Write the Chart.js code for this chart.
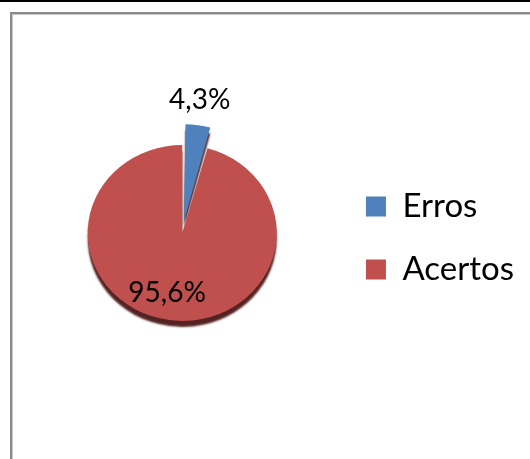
<!DOCTYPE html>
<html>
<head>
<meta charset="utf-8">
<script src="https://cdn.jsdelivr.net/npm/chart.js@4/dist/chart.umd.min.js"></script>
<style>
  html, body { margin: 0; padding: 0; background: #fff; width: 530px; height: 459px; overflow: hidden; }
  #topline { position: absolute; left: 0; top: 0; width: 530px; height: 2px; background: #000; }
  #frame { position: absolute; left: 10px; top: 12px; width: 540px; height: 470px;
           border-left: 2px solid #8a8a8a; border-top: 2px solid #8a8a8a;
           box-shadow: inset 1px 1px 0 #c8c8c8; }
  #c { position: absolute; left: 0; top: 0; }
</style>
</head>
<body>
<div id="topline"></div>
<div id="frame"></div>
<canvas id="c" width="530" height="459"></canvas>
<script>
const categories = ["Erros", "Acertos"];
const values = [4.3, 95.6];
const valueLabels = ["4,3%", "95,6%"];
const colors = ["#4f81bd", "#c0504d"];
const explode = [52, 0];

const tiltPlugin = {
  id: 'tilt',
  beforeDatasetsDraw(chart) {
    const arc = chart.getDatasetMeta(0).data[0];
    const ctx = chart.ctx;
    ctx.save();
    ctx.translate(arc.x, arc.y);
    ctx.scale(1, 0.93);
    ctx.translate(-arc.x, -arc.y);
    ctx.shadowColor = 'rgba(75,22,22,0.95)';
    ctx.shadowOffsetY = 6;
    ctx.shadowBlur = 2;
  },
  afterDatasetsDraw(chart) {
    chart.ctx.restore();
  }
};

const labelPlugin = {
  id: 'pieLabels',
  afterDraw(chart) {
    const meta = chart.getDatasetMeta(0);
    const ctx = chart.ctx;
    const a0 = meta.data[0], a1 = meta.data[1];
    const R = a1.outerRadius;
    const pos = [
      [a0.x + 0.185 * R, a0.y - 1.41 * R],
      [a1.x - 0.16 * R, a1.y + 0.635 * R]
    ];
    ctx.save();
    ctx.font = '28px Lato';
    ctx.fillStyle = '#000';
    ctx.textAlign = 'center';
    ctx.textBaseline = 'middle';
    valueLabels.forEach((t, i) => ctx.fillText(t, pos[i][0], pos[i][1]));
    ctx.restore();
  }
};

new Chart(document.getElementById('c'), {
  type: 'pie',
  data: {
    labels: categories,
    datasets: [{
      data: values,
      backgroundColor: colors,
      borderWidth: 0,
      offset: explode,
      hoverOffset: 0
    }]
  },
  options: {
    responsive: false,
    animation: false,
    rotation: 0,
    layout: { padding: { left: 28.5, right: 6, top: 112.5, bottom: 105.5 } },
    plugins: {
      tooltip: { enabled: false },
      legend: {
        position: 'right',
        title: { display: true, text: '', font: { size: 1 }, padding: { top: 8.8, bottom: 0 } },
        labels: {
          boxWidth: 20,
          boxHeight: 20,
          padding: 30,
          color: '#000',
          font: { family: 'Lato', size: 33 }
        }
      }
    }
  },
  plugins: [tiltPlugin, labelPlugin]
});
</script>
</body>
</html>
